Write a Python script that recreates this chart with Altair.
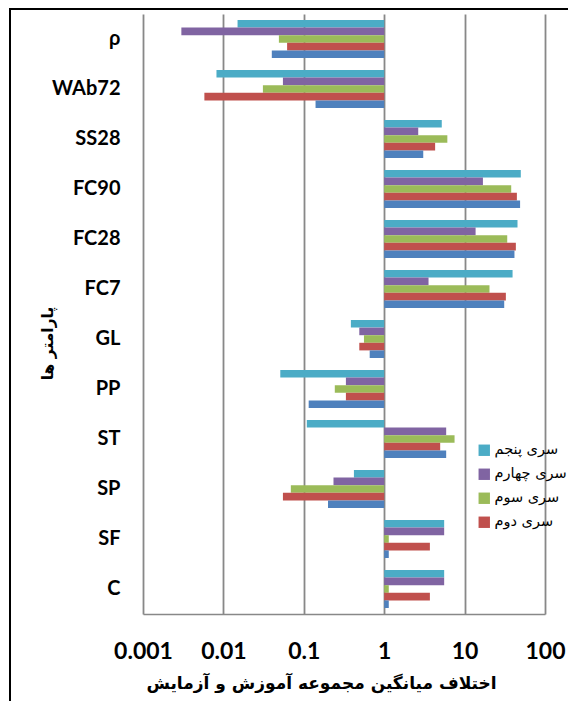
import altair as alt
import pandas as pd

categories = ["ρ", "WAb72", "SS28", "FC90", "FC28", "FC7", "GL", "PP", "ST", "SP", "SF", "C"]
series_names = ["سری پنجم", "سری چهارم", "سری سوم", "سری دوم", "سری اول"]
series_colors = ["#4BACC6", "#8064A2", "#9BBB59", "#C0504D", "#4F81BD"]

s5 = [0.015, 0.0082, 5.2, 50, 45.5, 39.5, 0.385, 0.051, 0.109, 0.42, 5.57, 5.57]
s4 = [0.003, 0.055, 2.65, 16.9, 13.7, 3.56, 0.49, 0.334, 5.9, 0.234, 5.57, 5.57]
s3 = [0.049, 0.031, 6.1, 38, 33.9, 20.4, 0.56, 0.243, 7.5, 0.069, 1.14, 1.14]
s2 = [0.062, 0.0058, 4.3, 44.7, 43.4, 32.6, 0.49, 0.334, 4.97, 0.055, 3.7, 3.7]
s1 = [0.040, 0.14, 3.06, 49, 41.7, 31.1, 0.66, 0.115, 5.9, 0.20, 1.14, 1.14]

tick_values = [0.001, 0.01, 0.1, 1, 10, 100]

rows = []
for name, vals in zip(series_names, [s5, s4, s3, s2, s1]):
    for c, v in zip(categories, vals):
        rows.append({"param": c, "series": name, "value": v})
df = pd.DataFrame(rows)

bars = alt.Chart(df).mark_bar().encode(
    y=alt.Y("param:N", sort=categories,
            scale=alt.Scale(paddingInner=0.24, paddingOuter=0.12),
            axis=alt.Axis(title="پارامتر ها", titleFont="DejaVu Sans", titleFontSize=15.5,
                          titleFontWeight="bold", titleColor="black",
                          titleX=-96, titleY=329, titleAngle=270,
                          titleAlign="center", titleBaseline="middle",
                          labelFont="Lato", labelFontSize=20, labelFontWeight="bold",
                          labelColor="black", labelPadding=23, ticks=False,
                          domain=False, grid=False)),
    yOffset=alt.YOffset("series:N", sort=series_names,
                        scale=alt.Scale(domain=series_names, paddingInner=0, paddingOuter=0)),
    x=alt.X("value:Q",
            scale=alt.Scale(type="log", domain=[0.001, 100], nice=False),
            axis=alt.Axis(values=tick_values,
                          labelExpr="datum.value >= 1 ? format(datum.value, 'd') : format(datum.value, '.3~f')",
                          labelFont="Lato", labelFontSize=23, labelFontWeight="bold",
                          labelColor="black", labelPadding=26, ticks=False,
                          labelFlush=False, labelOverlap=False, labelBound=False,
                          domain=True, domainColor="#888888", domainWidth=1.5,
                          grid=True, gridColor="#888888", gridWidth=1.8, gridOpacity=1,
                          title="اختلاف میانگین مجموعه آموزش و آزمایش",
                          titleFont="DejaVu Sans", titleFontSize=17, titleFontWeight="bold",
                          titleColor="black", titleX=178, titleY=69,
                          titleAlign="center", titleBaseline="middle")),
    x2=alt.datum(1),
    color=alt.Color("series:N",
                    scale=alt.Scale(domain=series_names, range=series_colors),
                    legend=alt.Legend(orient="none", legendX=334, legendY=429,
                                      values=series_names[:4], title=None,
                                      symbolType="square", symbolSize=130,
                                      symbolStrokeWidth=0, symbolOpacity=1,
                                      labelFont="DejaVu Sans", labelFontSize=14.5,
                                      labelColor="black", rowPadding=9,
                                      labelOffset=3, labelLimit=300)),
)

frame_df = pd.DataFrame({"k": [0]})
left_line = alt.Chart(frame_df).mark_rule(color="black", strokeWidth=2).encode(
    x=alt.value(-133), y=alt.value(-6), y2=alt.value(700))
top_line = alt.Chart(frame_df).mark_rule(color="black", strokeWidth=2).encode(
    x=alt.value(-134), x2=alt.value(430), y=alt.value(-5))

chart = alt.layer(bars, left_line, top_line).properties(
    width=402, height=600,
    autosize=alt.AutoSizeParams(type="none"),
    padding={"left": 135, "top": 6, "right": 23, "bottom": 87},
).configure_view(stroke=None)

chart.save("out.html", embed_options={"renderer": "svg", "actions": False})
